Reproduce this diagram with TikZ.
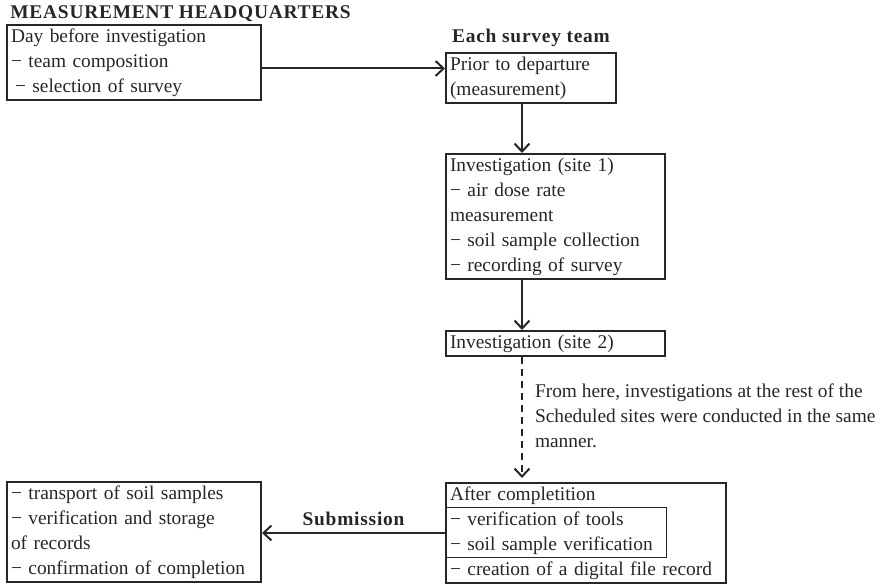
\documentclass[tikz,border=0pt]{standalone}
\usepackage{fontspec}
\setmainfont{Liberation Serif}
\usetikzlibrary{positioning, arrows.meta}

\begin{document}
\begin{tikzpicture}[
    >={Straight Barb[length=4pt, width=7.5pt]},
    font=\fontsize{9.7}{12.5}\selectfont,
    text=black!85,
    arrow/.style={
        ->,
        line width=1pt,
        draw=black!85
    },
    box/.style={
        rectangle,
        draw=black!85,
        line width=1pt,
        align=left,
        inner xsep=2pt,
        inner ysep=0pt,
        execute at begin node=\strut,
        execute at end node=\strut
    },
    heading/.style={
        font=\fontsize{9.7}{12.5}\selectfont\bfseries\addfontfeature{LetterSpace=4},
        inner sep=0pt
    }
]
    \useasboundingbox (0,0) rectangle (443.5pt,-293.5pt);

    % Headquarters, day before
    \node[box, text width=123pt, anchor=north west] (hq_day) at (3pt,-12pt)
        {Day before investigation\\− team composition\\\hspace*{2pt}− selection of survey};
    \node[heading, above=0.8pt of hq_day.north west, anchor=south west, xshift=2pt] (hq_head)
        {MEASUREMENT HEADQUARTERS};

    % Survey team
    \node[box, text width=81pt, right=91.5pt of hq_day.north east, anchor=north west, yshift=-14pt] (team_prior)
        {Prior to departure\\(measurement)};
    \node[heading, above=2.5pt of team_prior] (team_head) {Each survey team};
    \coordinate (hq_out) at ([yshift=-3pt]hq_day.east);
    \draw[arrow] (hq_out) -- (hq_out -| team_prior.west);

    % Sites
    \node[box, text width=105.5pt, below=24.5pt of team_prior.south west, anchor=north west] (site1)
        {Investigation (site 1)\\− air dose rate\\measurement\\− soil sample collection\\− recording of survey};
    \node[box, text width=105.5pt, below=25pt of site1.south west, anchor=north west] (site2)
        {Investigation (site 2)};

    \coordinate (spine) at ([xshift=38.5pt]team_prior.south west);
    \draw[arrow] (spine) -- (spine |- site1.north);
    \draw[arrow] (site1.south -| spine) -- (site2.north -| spine);

    % After completion
    \node[box, text width=136pt, below=62.5pt of site2.south west, anchor=north west] (after)
        {After completition\\− verification of tools\\− soil sample verification\\− creation of a digital file record};
    \coordinate (inner_top) at ([yshift=-12.5pt]after.north west);
    \coordinate (inner_bot) at ([yshift=-37.5pt]after.north west);
    \draw[black!85, line width=0.5pt] (inner_top) rectangle (inner_bot -| site1.east);

    \draw[arrow, dash pattern=on 3.5pt off 2.5pt, shorten >=2pt] (site2.south -| spine) -- (after.north -| spine)
        node[midway, right=6pt, align=left, inner sep=0pt, execute at begin node=\strut, execute at end node=\strut] (note)
        {From here, investigations at the rest of the\\Scheduled sites were conducted in the same\\manner.};

    % Back to headquarters
    \node[box, text width=123pt, left=91.5pt of after.north west, anchor=north east, yshift=0.5pt] (hq_final)
        {− transport of soil samples\\− verification and storage\\of records\\− confirmation of completion};
    \draw[arrow] (after.west) -- node[heading, above=3pt] (submit) {Submission} (after.west -| hq_final.east);

\end{tikzpicture}
\end{document}
